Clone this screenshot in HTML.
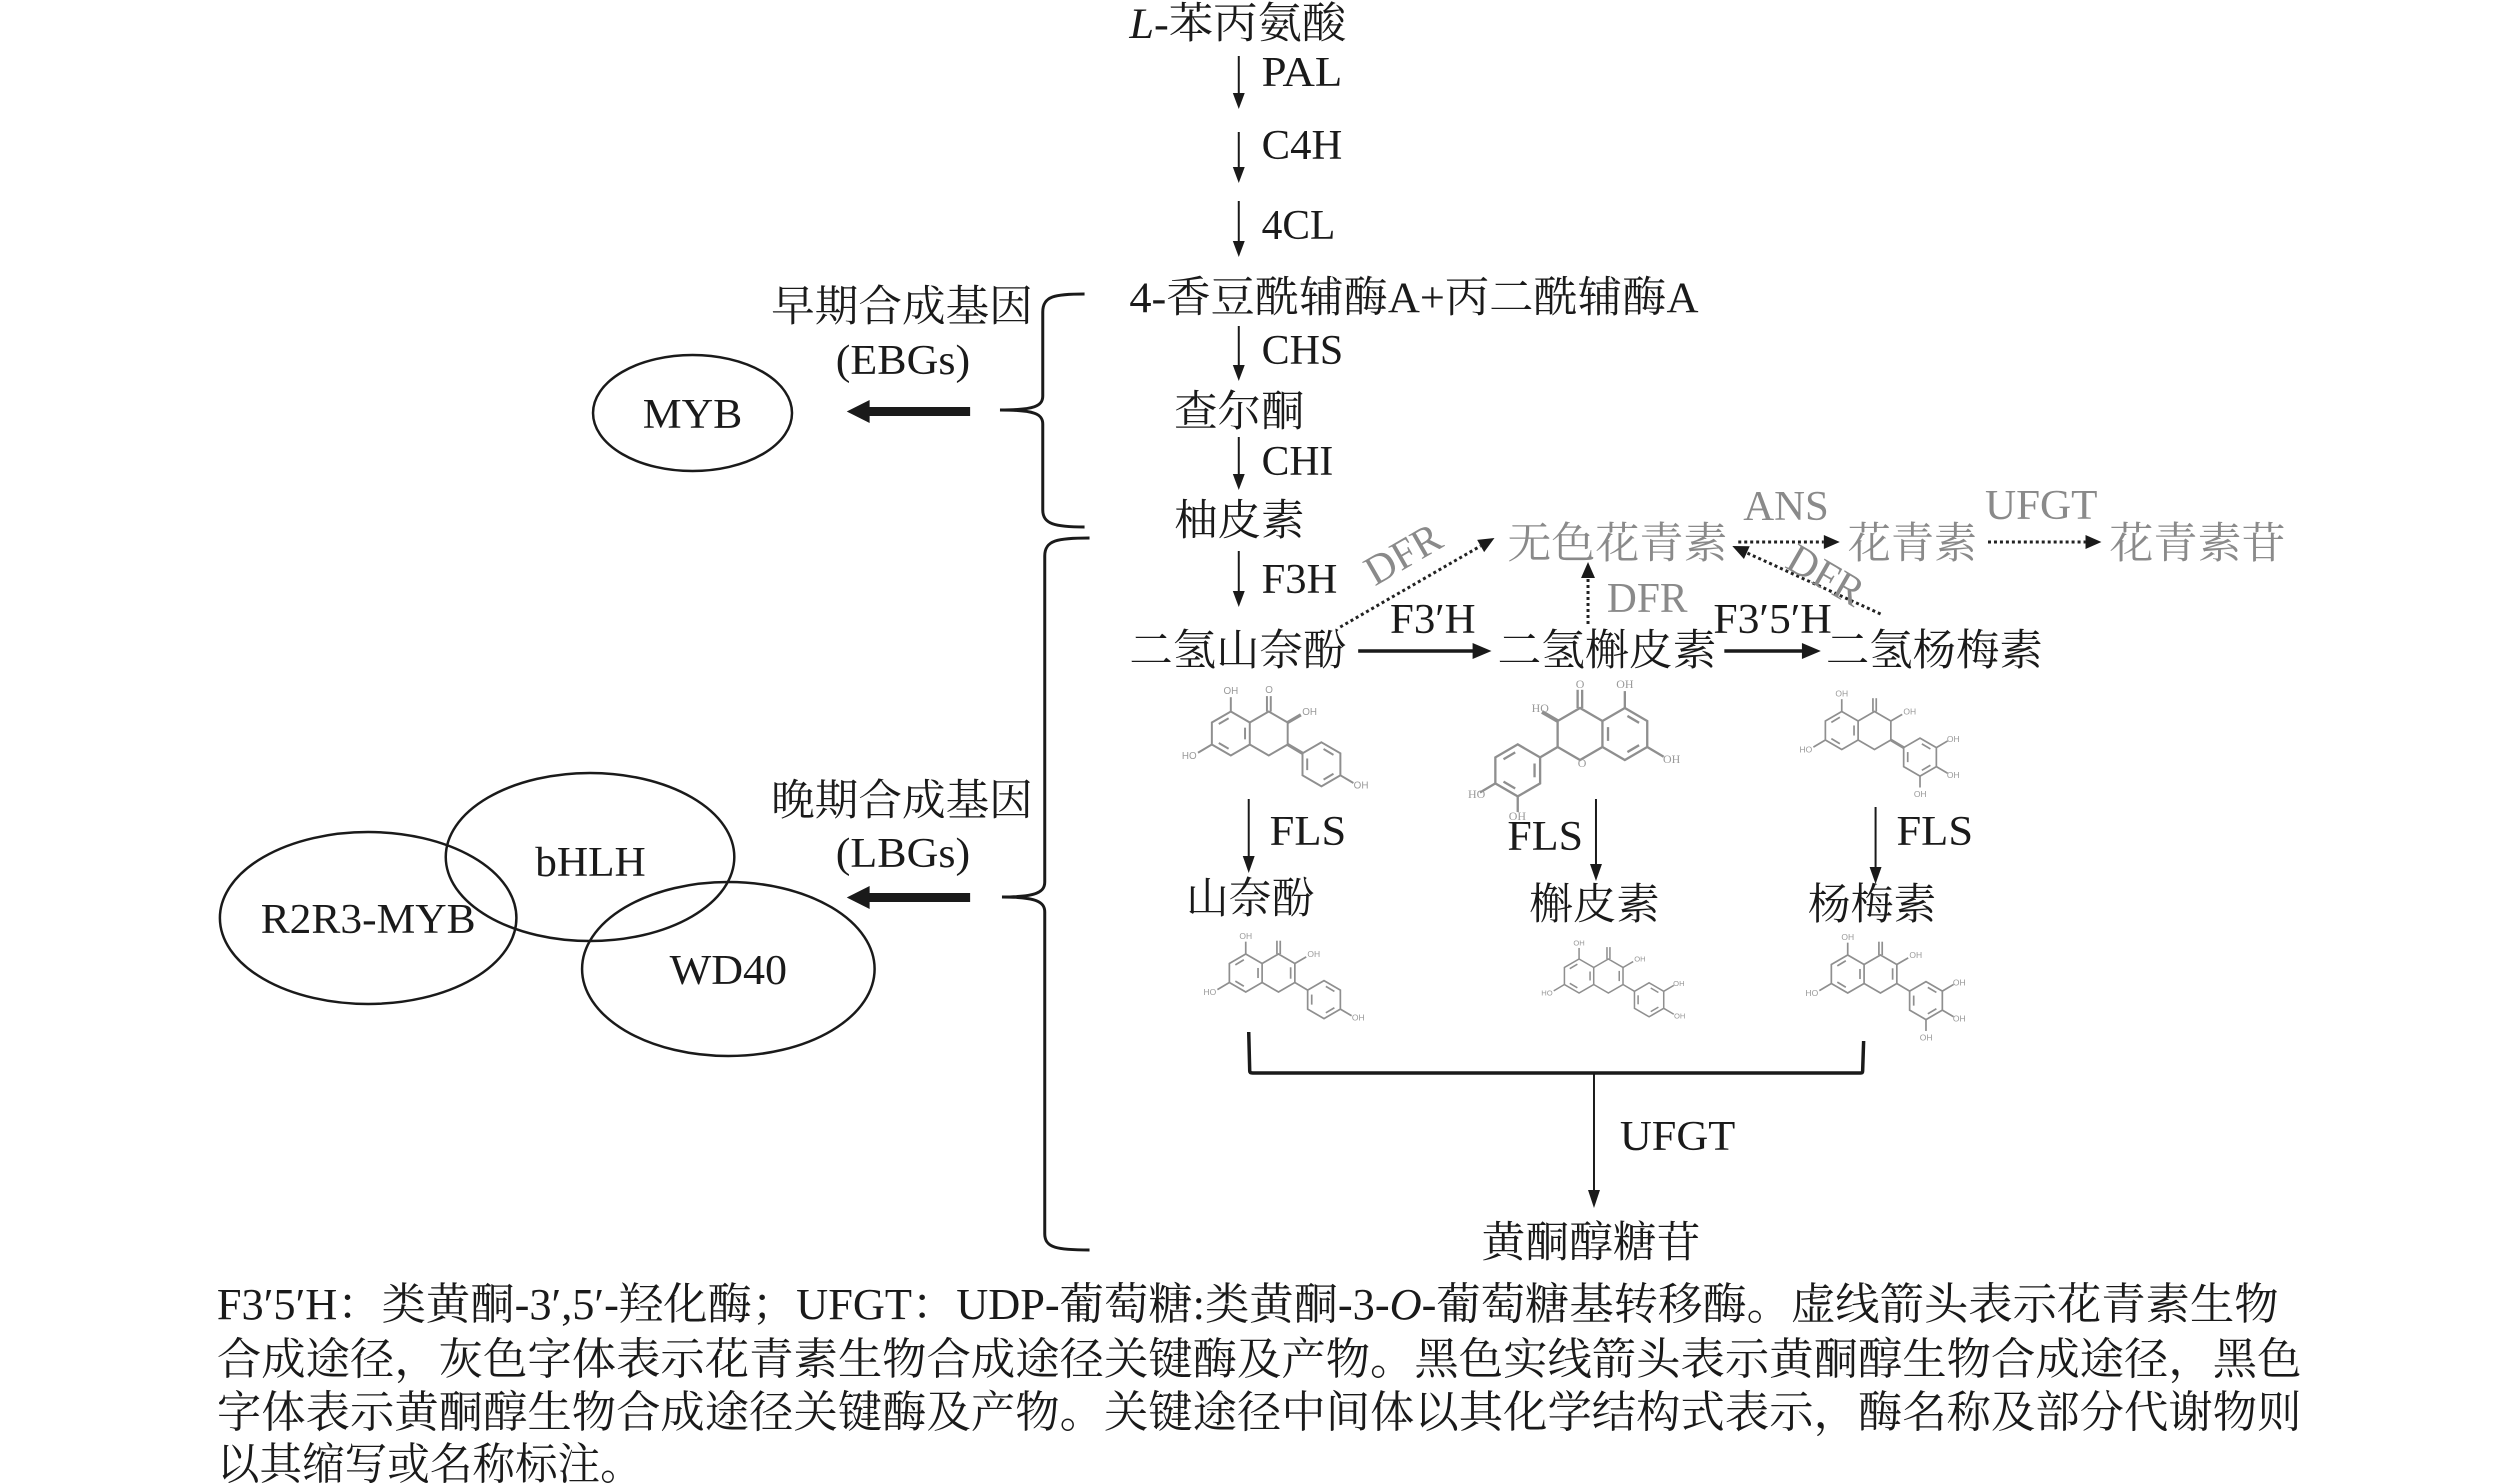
<!DOCTYPE html>
<html><head><meta charset="utf-8"><style>
html,body{margin:0;padding:0;background:#fff;}
svg{display:block;}
text{font-family:"Liberation Serif","Noto Serif CJK SC",serif;}
.cj{font-size:43px;fill:#1a1a1a;}
.lt{font-size:42px;fill:#1a1a1a;}
.gr{fill:#8a8a8a;}
.cap{font-size:44px;fill:#1a1a1a;}
.st{stroke:#8f8f8f;stroke-width:1.8;fill:none;}
.sl{font-size:9px;fill:#999;font-family:"Liberation Sans",sans-serif;}
</style></head><body>
<svg width="2519" height="1483" viewBox="0 0 2519 1483" xmlns="http://www.w3.org/2000/svg">
<rect width="2519" height="1483" fill="#fff"/>
<g transform="matrix(0.995 0 0 1 0 0)">

<!-- main column -->
<text class="cj" x="1135" y="38" textLength="218" lengthAdjust="spacingAndGlyphs"><tspan font-style="italic">L</tspan>-苯丙氨酸</text>

<g stroke="#1a1a1a" stroke-width="2" fill="#1a1a1a">
<line x1="1245" y1="56" x2="1245" y2="95"/><polygon points="1239,93 1251,93 1245,109" stroke="none"/>
<line x1="1245" y1="132" x2="1245" y2="169"/><polygon points="1239,167 1251,167 1245,183" stroke="none"/>
<line x1="1245" y1="201" x2="1245" y2="243"/><polygon points="1239,241 1251,241 1245,257" stroke="none"/>
<line x1="1245" y1="326" x2="1245" y2="367"/><polygon points="1239,365 1251,365 1245,381" stroke="none"/>
<line x1="1245" y1="437" x2="1245" y2="476"/><polygon points="1239,474 1251,474 1245,490" stroke="none"/>
<line x1="1245" y1="551" x2="1245" y2="593"/><polygon points="1239,591 1251,591 1245,607" stroke="none"/>
</g>
<text class="lt" x="1268" y="86" textLength="81" lengthAdjust="spacingAndGlyphs">PAL</text>
<text class="lt" x="1268" y="159" textLength="81" lengthAdjust="spacingAndGlyphs">C4H</text>
<text class="lt" x="1268" y="239" textLength="74" lengthAdjust="spacingAndGlyphs">4CL</text>
<text class="cj" x="1135" y="312" textLength="572" lengthAdjust="spacingAndGlyphs">4-香豆酰辅酶A+丙二酰辅酶A</text>
<text class="lt" x="1268" y="364" textLength="82" lengthAdjust="spacingAndGlyphs">CHS</text>
<text class="cj" x="1180" y="426" textLength="131" lengthAdjust="spacingAndGlyphs">查尔酮</text>
<text class="lt" x="1268" y="475" textLength="72" lengthAdjust="spacingAndGlyphs">CHI</text>
<text class="cj" x="1180" y="535" textLength="131" lengthAdjust="spacingAndGlyphs">柚皮素</text>
<text class="lt" x="1268" y="593" textLength="76" lengthAdjust="spacingAndGlyphs">F3H</text>

<!-- dihydro row -->
<text class="cj" x="1135" y="665" textLength="218" lengthAdjust="spacingAndGlyphs">二氢山奈酚</text>
<text class="cj" x="1505" y="665" textLength="220" lengthAdjust="spacingAndGlyphs">二氢槲皮素</text>
<text class="cj" x="1835" y="665" textLength="218" lengthAdjust="spacingAndGlyphs">二氢杨梅素</text>
<g stroke="#1a1a1a" stroke-width="3.5" fill="#1a1a1a">
<line x1="1365" y1="651" x2="1482" y2="651"/><polygon points="1480,643 1480,659 1499,651" stroke="none"/>
<line x1="1733" y1="651" x2="1813" y2="651"/><polygon points="1811,643 1811,659 1830,651" stroke="none"/>
</g>
<text class="lt" x="1397" y="633" textLength="86" lengthAdjust="spacingAndGlyphs">F3′H</text>
<text class="lt" x="1722" y="633" textLength="119" lengthAdjust="spacingAndGlyphs">F3′5′H</text>

<!-- anthocyanin (gray) -->
<text class="cj gr" x="1515" y="558" textLength="221" lengthAdjust="spacingAndGlyphs">无色花青素</text>
<text class="lt gr" x="1752" y="520" textLength="86" lengthAdjust="spacingAndGlyphs">ANS</text>
<text class="cj gr" x="1857" y="558" textLength="130" lengthAdjust="spacingAndGlyphs">花青素</text>
<text class="lt gr" x="1995" y="519" textLength="113" lengthAdjust="spacingAndGlyphs">UFGT</text>
<text class="cj gr" x="2120" y="558" textLength="177" lengthAdjust="spacingAndGlyphs">花青素苷</text>

<g stroke="#222" stroke-width="3" stroke-dasharray="3 3" fill="none">
<line x1="1747" y1="542" x2="1833" y2="542"/>
<line x1="1998" y1="542" x2="2096" y2="542"/>
<line x1="1347" y1="627" x2="1488" y2="546"/>
<line x1="1596" y1="624" x2="1596" y2="578"/>
<line x1="1890" y1="614" x2="1756" y2="553"/>
</g>
<g fill="#1a1a1a">
<polygon points="1833,535 1833,549 1849,542"/>
<polygon points="2096,535 2096,549 2112,542"/>
<polygon points="1491.6,552.1 1484.6,539.9 1502,538"/>
<polygon points="1589,578 1603,578 1596,562"/>
<polygon points="1758.5,546.2 1752.7,559 1741,546"/>
</g>
<text class="lt gr" x="1410" y="568" text-anchor="middle" transform="rotate(-30 1410 554)">DFR</text>
<text class="lt gr" x="1615" y="612" textLength="81" lengthAdjust="spacingAndGlyphs">DFR</text>
<text class="lt gr" x="1835" y="589" text-anchor="middle" transform="rotate(30 1835 575)">DFR</text>

<!-- structure 1: dihydrokaempferol -->
<g transform="translate(1237,733.5) scale(1.1)">
<g class="st">
<polygon points="0,-20 17.32,-10 17.32,10 0,20 -17.32,10 -17.32,-10"/>
<polyline points="17.32,-10 34.64,-20 51.96,-10 51.96,10 34.64,20 17.32,10"/>
<line x1="-11" y1="-8.6" x2="-2" y2="-13.9"/><line x1="-2" y1="13.9" x2="-11" y2="8.6"/><line x1="13" y1="-5.3" x2="13" y2="5.3"/>
<line x1="33" y1="-20" x2="33" y2="-34"/><line x1="36.5" y1="-20" x2="36.5" y2="-34"/>
<line x1="0" y1="-20" x2="0" y2="-33"/><line x1="-17.32" y1="10" x2="-30" y2="17.5"/>
<line x1="51.96" y1="-10" x2="64" y2="-17" stroke-width="3"/><line x1="51.96" y1="10" x2="65.5" y2="18" stroke-width="3"/>
<polygon points="82.8,8 100.1,18 100.1,38 82.8,48 65.5,38 65.5,18"/>
<line x1="84.75" y1="14.1" x2="93.8" y2="19.4"/><line x1="93.8" y1="36.6" x2="84.75" y2="41.9"/><line x1="69.8" y1="33.3" x2="69.8" y2="22.7"/>
<line x1="100.1" y1="38" x2="112" y2="45"/>
</g>
<text class="sl" x="0" y="-36" text-anchor="middle">OH</text><text class="sl" x="-38" y="23" text-anchor="middle">HO</text>
<text class="sl" x="35" y="-37" text-anchor="middle">O</text><text class="sl" x="72" y="-17" text-anchor="middle">OH</text>
<text class="sl" x="119" y="50" text-anchor="middle">OH</text>
</g>

<!-- structure 2: dihydroquercetin (mirrored) -->
<g transform="translate(1633,734) scale(-1.3,1.3)">
<g class="st">
<polygon points="0,-20 17.32,-10 17.32,10 0,20 -17.32,10 -17.32,-10"/>
<polyline points="17.32,-10 34.64,-20 51.96,-10 51.96,10 34.64,20 17.32,10"/>
<line x1="-11" y1="-8.6" x2="-2" y2="-13.9"/><line x1="-2" y1="13.9" x2="-11" y2="8.6"/><line x1="13" y1="-5.3" x2="13" y2="5.3"/>
<line x1="33" y1="-20" x2="33" y2="-34"/><line x1="36.5" y1="-20" x2="36.5" y2="-34"/>
<line x1="0" y1="-20" x2="0" y2="-33"/><line x1="-17.32" y1="10" x2="-30" y2="17.5"/>
<line x1="51.96" y1="-10" x2="64" y2="-17" stroke-width="3"/><line x1="51.96" y1="10" x2="65.5" y2="18"/>
<polygon points="82.8,8 100.1,18 100.1,38 82.8,48 65.5,38 65.5,18"/>
<line x1="84.75" y1="14.1" x2="93.8" y2="19.4"/><line x1="93.8" y1="36.6" x2="84.75" y2="41.9"/><line x1="69.8" y1="33.3" x2="69.8" y2="22.7"/>
<line x1="100.1" y1="38" x2="112" y2="45"/><line x1="82.8" y1="48" x2="82.8" y2="60"/>
</g>
</g>
<g class="sl" style="font-size:12px">
<text x="1633" y="688" text-anchor="middle">OH</text>
<text x="1588" y="688" text-anchor="middle">O</text>
<text x="1548" y="712" text-anchor="middle">HO</text>
<text x="1680" y="763" text-anchor="middle">OH</text>
<text x="1590" y="767" text-anchor="middle">O</text>
<text x="1484" y="798" text-anchor="middle">HO</text>
<text x="1525" y="820" text-anchor="middle">OH</text>
</g>

<!-- structure 3: dihydromyricetin -->
<g transform="translate(1851,730.5) scale(0.95)">
<g class="st">
<polygon points="0,-20 17.32,-10 17.32,10 0,20 -17.32,10 -17.32,-10"/>
<polyline points="17.32,-10 34.64,-20 51.96,-10 51.96,10 34.64,20 17.32,10"/>
<line x1="-11" y1="-8.6" x2="-2" y2="-13.9"/><line x1="-2" y1="13.9" x2="-11" y2="8.6"/><line x1="13" y1="-5.3" x2="13" y2="5.3"/>
<line x1="33" y1="-20" x2="33" y2="-34"/><line x1="36.5" y1="-20" x2="36.5" y2="-34"/>
<line x1="0" y1="-20" x2="0" y2="-33"/><line x1="-17.32" y1="10" x2="-30" y2="17.5"/>
<line x1="51.96" y1="-10" x2="64" y2="-17"/><line x1="51.96" y1="10" x2="65.5" y2="18" stroke-width="3"/>
<polygon points="82.8,8 100.1,18 100.1,38 82.8,48 65.5,38 65.5,18"/>
<line x1="84.75" y1="14.1" x2="93.8" y2="19.4"/><line x1="93.8" y1="36.6" x2="84.75" y2="41.9"/><line x1="69.8" y1="33.3" x2="69.8" y2="22.7"/>
<line x1="100.1" y1="38" x2="112" y2="45"/><line x1="100.1" y1="18" x2="112" y2="11"/><line x1="82.8" y1="48" x2="82.8" y2="60"/>
</g>
<text class="sl" x="0" y="-36" text-anchor="middle">OH</text><text class="sl" x="-38" y="23" text-anchor="middle">HO</text>
<text class="sl" x="72" y="-17" text-anchor="middle">OH</text><text class="sl" x="118" y="12" text-anchor="middle">OH</text>
<text class="sl" x="118" y="50" text-anchor="middle">OH</text><text class="sl" x="83" y="70" text-anchor="middle">OH</text>
</g>

<!-- FLS arrows -->
<g stroke="#1a1a1a" stroke-width="2" fill="#1a1a1a">
<line x1="1255" y1="799" x2="1255" y2="858"/><polygon points="1249,856 1261,856 1255,873" stroke="none"/>
<line x1="1604" y1="799" x2="1604" y2="866"/><polygon points="1598,864 1610,864 1604,881" stroke="none"/>
<line x1="1885" y1="807" x2="1885" y2="869"/><polygon points="1879,867 1891,867 1885,884" stroke="none"/>
</g>
<text class="lt" x="1276" y="845" textLength="77" lengthAdjust="spacingAndGlyphs">FLS</text>
<text class="lt" x="1515" y="850" textLength="76" lengthAdjust="spacingAndGlyphs">FLS</text>
<text class="lt" x="1906" y="845" textLength="77" lengthAdjust="spacingAndGlyphs">FLS</text>

<text class="cj" x="1192" y="913" textLength="129" lengthAdjust="spacingAndGlyphs">山奈酚</text>
<text class="cj" x="1537" y="919" textLength="131" lengthAdjust="spacingAndGlyphs">槲皮素</text>
<text class="cj" x="1817" y="919" textLength="129" lengthAdjust="spacingAndGlyphs">杨梅素</text>

<!-- flavonol structures -->
<g transform="translate(1252,973) scale(0.95)">
<g class="st">
<polygon points="0,-20 17.32,-10 17.32,10 0,20 -17.32,10 -17.32,-10"/>
<polyline points="17.32,-10 34.64,-20 51.96,-10 51.96,10 34.64,20 17.32,10"/>
<line x1="-11" y1="-8.6" x2="-2" y2="-13.9"/><line x1="-2" y1="13.9" x2="-11" y2="8.6"/><line x1="13" y1="-5.3" x2="13" y2="5.3"/><line x1="47.5" y1="-6" x2="47.5" y2="6"/>
<line x1="33" y1="-20" x2="33" y2="-34"/><line x1="36.5" y1="-20" x2="36.5" y2="-34"/>
<line x1="0" y1="-20" x2="0" y2="-33"/><line x1="-17.32" y1="10" x2="-30" y2="17.5"/>
<line x1="51.96" y1="-10" x2="64" y2="-17"/><line x1="51.96" y1="10" x2="65.5" y2="18"/>
<polygon points="82.8,8 100.1,18 100.1,38 82.8,48 65.5,38 65.5,18"/>
<line x1="84.75" y1="14.1" x2="93.8" y2="19.4"/><line x1="93.8" y1="36.6" x2="84.75" y2="41.9"/><line x1="69.8" y1="33.3" x2="69.8" y2="22.7"/>
<line x1="100.1" y1="38" x2="112" y2="45"/>
</g>
<text class="sl" x="0" y="-36" text-anchor="middle">OH</text><text class="sl" x="-38" y="23" text-anchor="middle">HO</text>
<text class="sl" x="72" y="-17" text-anchor="middle">OH</text><text class="sl" x="119" y="50" text-anchor="middle">OH</text>
</g>
<g transform="translate(1587,976) scale(0.85)">
<g class="st">
<polygon points="0,-20 17.32,-10 17.32,10 0,20 -17.32,10 -17.32,-10"/>
<polyline points="17.32,-10 34.64,-20 51.96,-10 51.96,10 34.64,20 17.32,10"/>
<line x1="-11" y1="-8.6" x2="-2" y2="-13.9"/><line x1="-2" y1="13.9" x2="-11" y2="8.6"/><line x1="13" y1="-5.3" x2="13" y2="5.3"/><line x1="47.5" y1="-6" x2="47.5" y2="6"/>
<line x1="33" y1="-20" x2="33" y2="-34"/><line x1="36.5" y1="-20" x2="36.5" y2="-34"/>
<line x1="0" y1="-20" x2="0" y2="-33"/><line x1="-17.32" y1="10" x2="-30" y2="17.5"/>
<line x1="51.96" y1="-10" x2="64" y2="-17"/><line x1="51.96" y1="10" x2="65.5" y2="18"/>
<polygon points="82.8,8 100.1,18 100.1,38 82.8,48 65.5,38 65.5,18"/>
<line x1="84.75" y1="14.1" x2="93.8" y2="19.4"/><line x1="93.8" y1="36.6" x2="84.75" y2="41.9"/><line x1="69.8" y1="33.3" x2="69.8" y2="22.7"/>
<line x1="100.1" y1="38" x2="112" y2="45"/><line x1="100.1" y1="18" x2="112" y2="11"/>
</g>
<text class="sl" x="0" y="-36" text-anchor="middle">OH</text><text class="sl" x="-38" y="23" text-anchor="middle">HO</text>
<text class="sl" x="72" y="-17" text-anchor="middle">OH</text><text class="sl" x="118" y="12" text-anchor="middle">OH</text><text class="sl" x="119" y="50" text-anchor="middle">OH</text>
</g>
<g transform="translate(1857,974) scale(0.95)">
<g class="st">
<polygon points="0,-20 17.32,-10 17.32,10 0,20 -17.32,10 -17.32,-10"/>
<polyline points="17.32,-10 34.64,-20 51.96,-10 51.96,10 34.64,20 17.32,10"/>
<line x1="-11" y1="-8.6" x2="-2" y2="-13.9"/><line x1="-2" y1="13.9" x2="-11" y2="8.6"/><line x1="13" y1="-5.3" x2="13" y2="5.3"/><line x1="47.5" y1="-6" x2="47.5" y2="6"/>
<line x1="33" y1="-20" x2="33" y2="-34"/><line x1="36.5" y1="-20" x2="36.5" y2="-34"/>
<line x1="0" y1="-20" x2="0" y2="-33"/><line x1="-17.32" y1="10" x2="-30" y2="17.5"/>
<line x1="51.96" y1="-10" x2="64" y2="-17"/><line x1="51.96" y1="10" x2="65.5" y2="18"/>
<polygon points="82.8,8 100.1,18 100.1,38 82.8,48 65.5,38 65.5,18"/>
<line x1="84.75" y1="14.1" x2="93.8" y2="19.4"/><line x1="93.8" y1="36.6" x2="84.75" y2="41.9"/><line x1="69.8" y1="33.3" x2="69.8" y2="22.7"/>
<line x1="100.1" y1="38" x2="112" y2="45"/><line x1="100.1" y1="18" x2="112" y2="11"/><line x1="82.8" y1="48" x2="82.8" y2="60"/>
</g>
<text class="sl" x="0" y="-36" text-anchor="middle">OH</text><text class="sl" x="-38" y="23" text-anchor="middle">HO</text>
<text class="sl" x="72" y="-17" text-anchor="middle">OH</text><text class="sl" x="118" y="12" text-anchor="middle">OH</text>
<text class="sl" x="118" y="50" text-anchor="middle">OH</text><text class="sl" x="83" y="70" text-anchor="middle">OH</text>
</g>

<!-- bottom bracket + UFGT -->
<path d="M1255,1032 L1256,1071 Q1256,1073 1259,1073 L1870,1073 Q1872,1073 1872,1071 L1873,1041" stroke="#1a1a1a" stroke-width="3.5" fill="none"/>
<line x1="1602" y1="1073" x2="1602" y2="1192" stroke="#1a1a1a" stroke-width="2"/>
<polygon points="1596,1190 1608,1190 1602,1208" fill="#1a1a1a"/>
<text class="lt" x="1628" y="1150" textLength="116" lengthAdjust="spacingAndGlyphs">UFGT</text>
<text class="cj" x="1489" y="1257" textLength="220" lengthAdjust="spacingAndGlyphs">黄酮醇糖苷</text>

<!-- braces -->
<g stroke="#1a1a1a" stroke-width="3" fill="none">
<path d="M1090,294 C1060,294 1048,296 1048,312 L1048,396 C1048,406 1040,410 1005,410 C1040,410 1048,414 1048,424 L1048,510 C1048,524 1060,527 1090,527"/>
<path d="M1095,538 C1063,538 1050,540 1050,556 L1050,882 C1050,892 1042,897 1007,897 C1042,897 1050,902 1050,912 L1050,1234 C1050,1248 1063,1250 1095,1250"/>
</g>
<!-- thick arrows -->
<g fill="#1a1a1a">
<rect x="868" y="407" width="107" height="9"/><polygon points="851,411.5 874,400 874,423"/>
<rect x="868" y="893" width="107" height="9"/><polygon points="851,897.5 874,886 874,909"/>
</g>
<text class="cj" x="775" y="321" textLength="263" lengthAdjust="spacingAndGlyphs">早期合成基因</text>
<text class="lt" x="840" y="374" textLength="135" lengthAdjust="spacingAndGlyphs">(EBGs)</text>
<text class="cj" x="775" y="815" textLength="263" lengthAdjust="spacingAndGlyphs">晚期合成基因</text>
<text class="lt" x="840" y="867" textLength="135" lengthAdjust="spacingAndGlyphs">(LBGs)</text>

<!-- ellipses -->
<g stroke="#1a1a1a" stroke-width="2.5" fill="none">
<ellipse cx="696" cy="413" rx="100" ry="58"/>
<ellipse cx="593" cy="857" rx="145" ry="84"/>
<ellipse cx="370" cy="918" rx="149" ry="86"/>
<ellipse cx="732" cy="969" rx="147" ry="87"/>
</g>
<text class="lt" x="646" y="428" textLength="100" lengthAdjust="spacingAndGlyphs">MYB</text>
<text class="lt" x="538" y="876" textLength="111" lengthAdjust="spacingAndGlyphs">bHLH</text>
<text class="lt" x="262" y="933" textLength="216" lengthAdjust="spacingAndGlyphs">R2R3-MYB</text>
<text class="lt" x="673" y="984" textLength="118" lengthAdjust="spacingAndGlyphs">WD40</text>

<!-- caption -->
<text class="cap" x="218" y="1319" textLength="2072" lengthAdjust="spacingAndGlyphs">F3′5′H：类黄酮-3′,5′-羟化酶；UFGT：UDP-葡萄糖:类黄酮-3-<tspan font-style="italic">O</tspan>-葡萄糖基转移酶。虚线箭头表示花青素生物</text>
<text class="cap" x="218" y="1374" textLength="2095" lengthAdjust="spacingAndGlyphs">合成途径，灰色字体表示花青素生物合成途径关键酶及产物。黑色实线箭头表示黄酮醇生物合成途径，黑色</text>
<text class="cap" x="218" y="1427" textLength="2095" lengthAdjust="spacingAndGlyphs">字体表示黄酮醇生物合成途径关键酶及产物。关键途径中间体以其化学结构式表示，酶名称及部分代谢物则</text>
<text class="cap" x="218" y="1479" textLength="428" lengthAdjust="spacingAndGlyphs">以其缩写或名称标注。</text>
</g>
</svg>
</body></html>
